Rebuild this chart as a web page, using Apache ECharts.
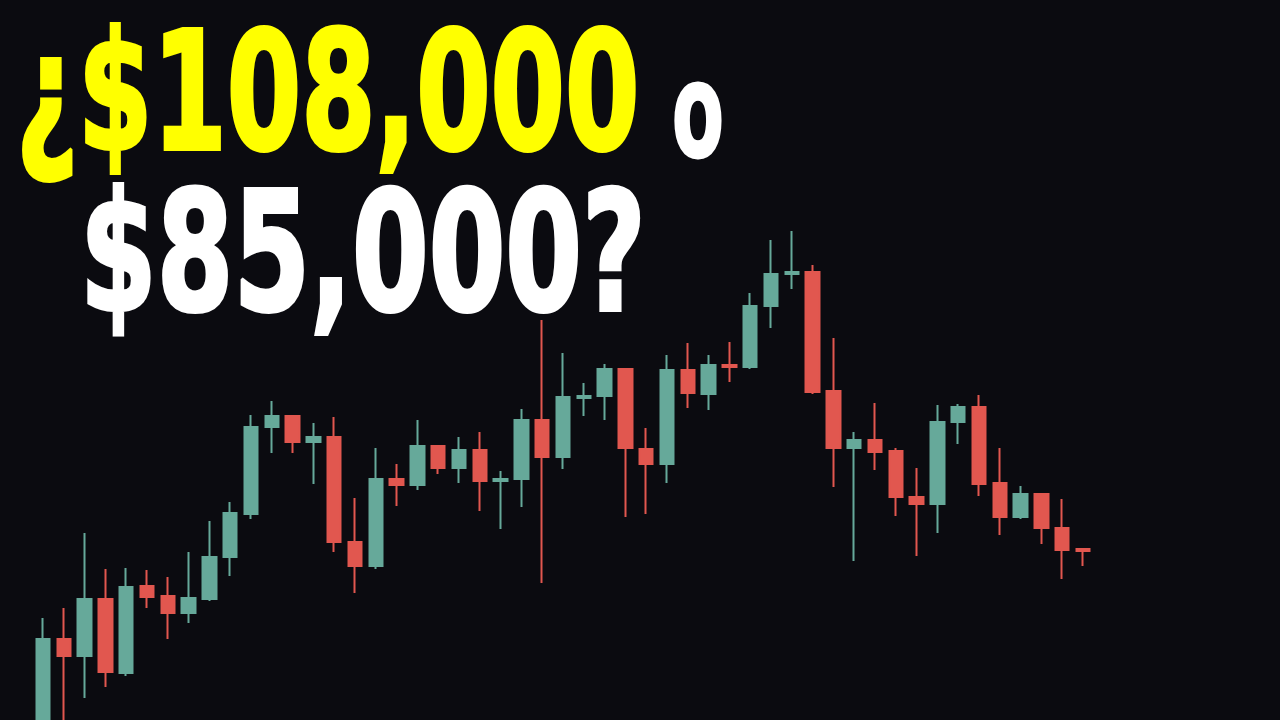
<!DOCTYPE html>
<html>
<head>
<meta charset="utf-8">
<script src="https://cdn.jsdelivr.net/npm/echarts@6/dist/echarts.min.js"></script>
<style>
html,body{margin:0;padding:0;background:#0b0b10;}
#chart{width:1280px;height:720px;}
</style>
</head>
<body>
<div id="chart"></div>
<script>
// Candle data (relative price level)
const categories = Array.from({length: 51}, (_, i) => 'D' + (i + 1));
const openVals  = [-15, 81, 64,121, 47,134,124,107,121,163,206,293,304,278,283,178,154,241,235,274,252,270,239,241,300,263,322,324,351,271,256,350,326,355,353,414,446,448,329,272,280,269,223,216,298,313,237,203,226,192,171];
const closeVals = [ 81, 64,121, 48,133,123,107,122,163,207,293,304,278,283,178,154,241,235,274,252,270,239,241,300,263,323,324,351,272,256,350,327,355,353,414,446,448,328,272,280,268,223,216,298,313,236,203,226,192,170,169];
const lowVals   = [-25,-20, 22, 33, 44,112, 81, 97,119,144,201,267,267,236,168,127,151,214,230,246,237,209,191,213,137,251,304,300,203,206,237,312,310,338,351,392,431,326,233,159,250,204,164,187,276,224,185,201,176,141,154];
const highVals  = [102,112,187,151,152,150,143,168,199,218,305,319,304,297,303,222,272,256,300,274,283,288,249,311,400,367,337,356,351,292,365,377,365,378,427,480,489,455,382,288,317,272,252,315,316,325,272,234,226,221,172];

const titleLine1 = '¿$108,000';
const titleOr = 'o';
const titleLine2 = '$85,000?';

const ohlc = categories.map((c, i) => [openVals[i], closeVals[i], lowVals[i], highVals[i]]);

const chart = echarts.init(document.getElementById('chart'));
const FONT = '"DejaVu Sans", sans-serif';
chart.setOption({
  backgroundColor: '#0b0b10',
  animation: false,
  grid: {left: 32.6, width: 1060.8, top: 0, height: 720},
  xAxis: {type: 'category', data: categories, show: false, boundaryGap: true},
  yAxis: {type: 'value', min: 0, max: 720, show: false},
  series: [{
    type: 'candlestick',
    data: ohlc,
    barWidth: 14,
    clip: true,
    itemStyle: {
      color: '#66a99a', color0: '#e1574f',
      borderColor: '#66a99a', borderColor0: '#e1574f',
      borderWidth: 2
    }
  }],
  graphic: [
    {type: 'text', x: 16, y: 107, z: 100, scaleX: 0.648, scaleY: 0.99,
     style: {text: titleLine1, font: 'bold 165px ' + FONT, fill: '#ffff00', stroke: '#ffff00', lineWidth: 4, lineJoin: 'round', verticalAlign: 'middle'}},
    {type: 'text', x: 672, y: 122, z: 100, scaleX: 0.56, scaleY: 0.97,
     style: {text: titleOr, font: 'bold 135px ' + FONT, fill: '#ffffff', stroke: '#ffffff', lineWidth: 3, lineJoin: 'round', verticalAlign: 'middle'}},
    {type: 'text', x: 80, y: 267, z: 100, scaleX: 0.668, scaleY: 1.0,
     style: {text: titleLine2, font: 'bold 165px ' + FONT, fill: '#ffffff', stroke: '#ffffff', lineWidth: 4, lineJoin: 'round', verticalAlign: 'middle'}}
  ]
});
</script>
</body>
</html>
